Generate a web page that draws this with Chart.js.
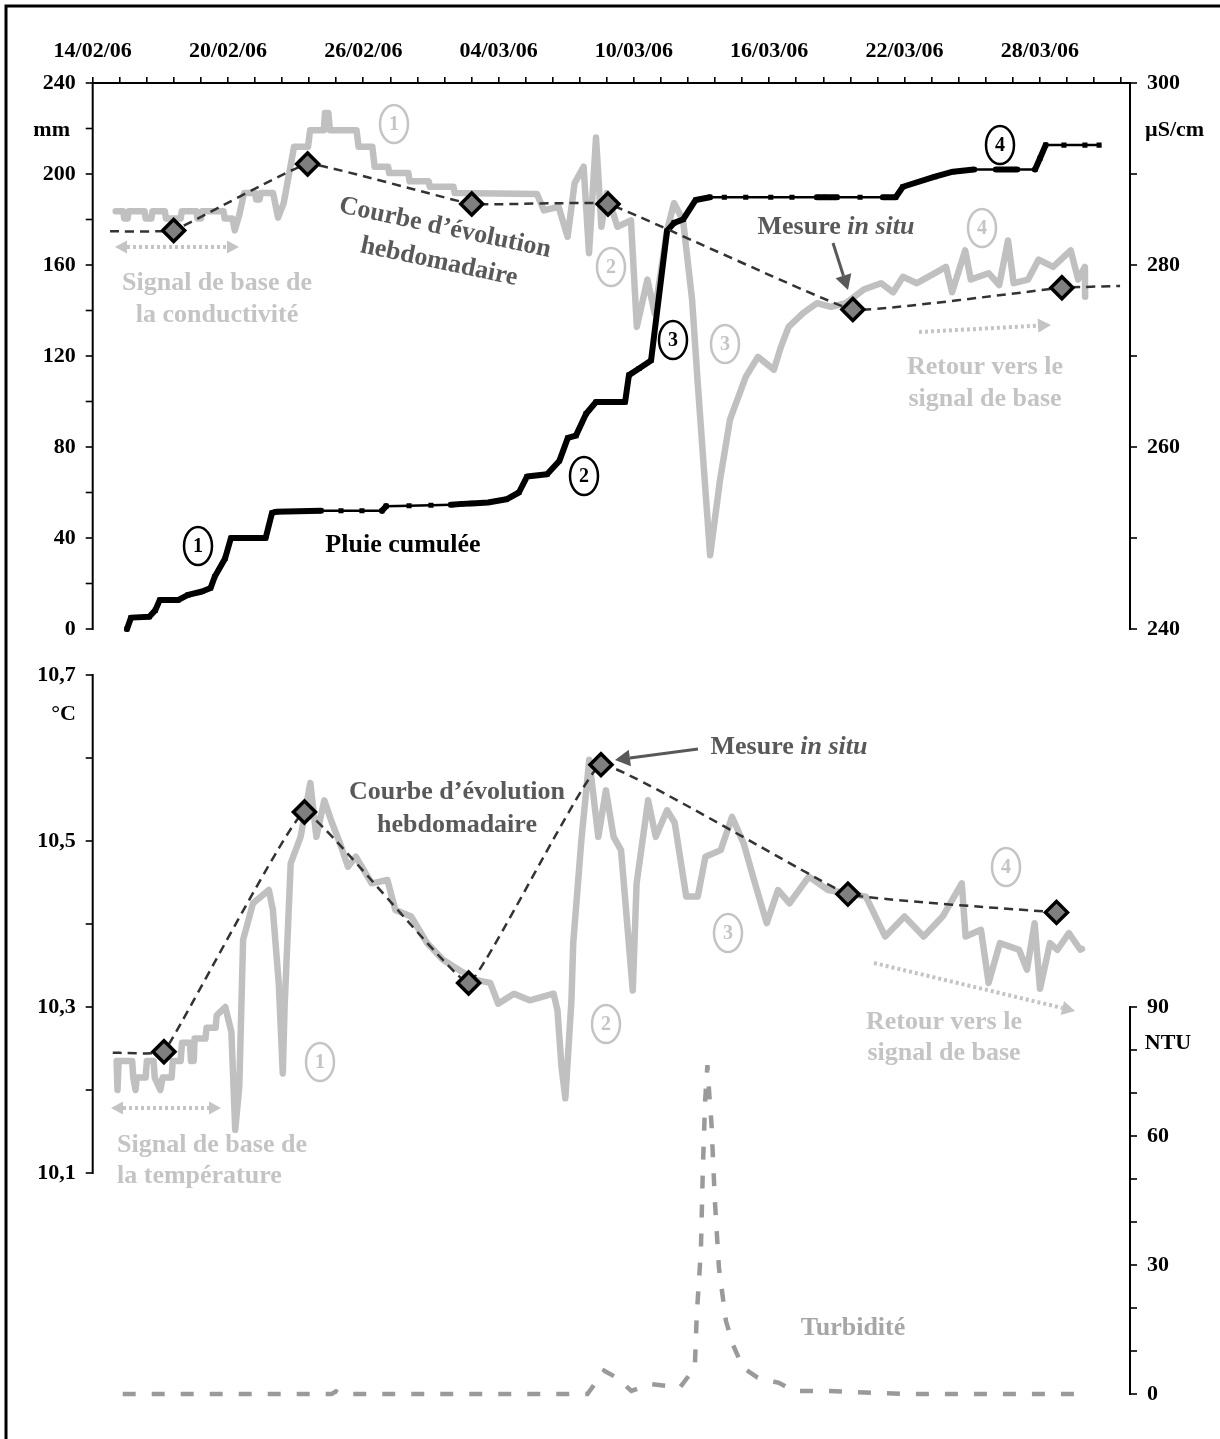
<!DOCTYPE html>
<html>
<head>
<meta charset="utf-8">
<script src="https://cdn.jsdelivr.net/npm/chart.js@4.4.1/dist/chart.umd.min.js"></script>
<style>
  html, body { margin: 0; padding: 0; background: #fff; }
  canvas { display: block; }
</style>
</head>
<body>
<canvas id="chart" width="1220" height="1439"></canvas>
<script>
// top axis labels, one every 6 days starting 14/02/06
var dateLabels = ['14/02/06', '20/02/06', '26/02/06', '04/03/06', '10/03/06', '16/03/06', '22/03/06', '28/03/06'];

// all x values are days since 14/02/06 00:00
var rainDays = [1.52, 1.70, 2.51, 2.78, 2.97, 3.35, 3.78, 4.23, 4.85, 5.23, 5.41, 5.87, 6.13, 6.60, 7.15, 7.67, 7.95, 8.13, 10.12, 11.01, 11.94, 12.83, 13.01, 14.03, 15.00, 15.89, 16.38, 16.82, 17.53, 18.35, 18.90, 19.26, 20.15, 20.70, 21.07, 21.43, 21.88, 22.32, 22.75, 23.20, 23.61, 23.78, 24.23, 24.76, 25.47, 25.78, 26.18, 26.74, 27.37, 28.01, 28.96, 30.07, 31.01, 32.12, 32.43, 33.00, 34.03, 35.05, 35.61, 35.93, 37.35, 38.15, 39.08, 40.06, 40.50, 40.99, 41.79, 42.01, 42.26, 43.07, 44.00, 44.63];
var rainMm = [0, 5, 5.4, 8.3, 12.7, 12.7, 12.7, 15, 16.5, 18, 23, 31, 40, 40, 40, 40, 51, 51.5, 52, 52, 52, 52, 54, 54.2, 54.4, 54.6, 55, 55.2, 55.6, 57, 60, 67, 68, 74, 84, 85, 94.6, 99.8, 99.8, 99.8, 99.8, 111.6, 114.5, 118, 175, 178.5, 180, 188.6, 189.8, 189.8, 189.8, 189.8, 189.8, 189.8, 189.8, 189.8, 189.8, 189.8, 189.8, 194.4, 198.8, 201, 202, 202, 202, 202, 202, 206.9, 212.7, 212.7, 212.7, 212.7];

var condDays = [1.02, 1.35, 1.40, 1.55, 1.60, 2.30, 2.35, 2.60, 2.65, 3.20, 3.25, 3.90, 3.95, 4.60, 4.65, 4.80, 4.85, 5.80, 5.85, 6.20, 6.30, 6.50, 6.71, 7.20, 7.25, 7.40, 7.45, 8.00, 8.22, 8.47, 8.93, 9.55, 9.64, 10.25, 10.30, 10.45, 10.52, 11.70, 11.79, 12.40, 12.50, 13.10, 13.15, 14.00, 14.05, 14.90, 14.95, 16.00, 16.05, 19.70, 20.01, 20.66, 21.06, 21.37, 21.77, 22.01, 22.32, 22.56, 22.80, 23.27, 23.87, 24.13, 24.60, 24.92, 25.47, 25.78, 26.18, 26.58, 26.82, 27.38, 27.82, 28.26, 28.96, 29.50, 30.21, 30.52, 30.86, 31.50, 32.12, 32.74, 33.39, 34.19, 34.96, 35.50, 35.93, 36.55, 37.35, 37.84, 38.11, 38.69, 38.94, 39.73, 40.20, 40.59, 40.84, 41.48, 41.95, 42.59, 43.37, 43.70, 44.00, 44.01];
var condUS = [285.9, 285.9, 285.1, 285.1, 285.9, 285.9, 285.1, 285.1, 285.9, 285.9, 285.1, 285.1, 285.9, 285.9, 285.1, 285.1, 285.9, 285.9, 285.1, 285.1, 283.8, 285.5, 287.9, 287.9, 287.2, 287.2, 287.9, 287.9, 285.2, 286.8, 293.0, 293.0, 294.8, 294.8, 296.7, 296.7, 294.8, 294.8, 293.0, 293.0, 290.8, 290.8, 290.1, 290.1, 289.2, 289.2, 288.6, 288.6, 287.9, 287.8, 286.0, 286.4, 283.1, 289.0, 290.8, 281.3, 294.0, 284.2, 287.9, 284.2, 284.9, 273.2, 278.4, 274.7, 283.8, 286.8, 284.9, 276.2, 267.4, 248.1, 256.4, 263.0, 267.7, 269.9, 268.5, 271.0, 273.2, 274.7, 275.8, 275.4, 275.8, 277.3, 278.0, 277.0, 278.7, 278.0, 279.1, 279.8, 277.0, 281.6, 278.4, 279.1, 277.8, 282.7, 278.0, 278.4, 280.6, 279.8, 281.6, 278.4, 279.8, 276.5];

// weekly in situ conductivity (first and last points only extend the dashed line)
var condWeekDays = [0.77, 3.59, 9.53, 16.81, 22.85, 33.71, 42.98, 45.56];
var condWeek = [283.7, 283.8, 291.1, 286.7, 286.7, 275.1, 277.5, 277.7];

var tempDays = [1.06, 1.10, 1.15, 1.75, 1.80, 1.90, 1.95, 2.35, 2.40, 2.70, 2.75, 3.00, 3.10, 3.50, 3.55, 3.90, 3.96, 4.31, 4.36, 4.48, 4.52, 5.00, 5.05, 5.45, 5.50, 5.88, 6.15, 6.32, 6.50, 6.67, 7.11, 7.81, 7.99, 8.25, 8.43, 8.51, 8.78, 9.22, 9.65, 9.92, 10.27, 10.61, 10.97, 11.32, 11.67, 12.37, 13.07, 13.42, 14.12, 14.83, 15.53, 16.23, 16.93, 17.63, 17.98, 18.68, 19.38, 20.44, 20.61, 20.79, 20.96, 21.23, 21.31, 21.67, 22.02, 22.42, 22.76, 23.10, 23.43, 23.95, 24.12, 24.63, 24.97, 25.47, 25.81, 26.32, 26.83, 27.17, 27.85, 28.35, 28.87, 29.37, 29.89, 30.39, 30.90, 31.76, 32.61, 33.45, 34.29, 35.14, 36.00, 36.85, 37.69, 38.54, 38.71, 39.39, 39.73, 40.23, 41.08, 41.43, 41.77, 42.01, 42.45, 42.78, 43.29, 43.80, 43.87];
var tempC = [10.235, 10.200, 10.235, 10.235, 10.215, 10.200, 10.215, 10.215, 10.235, 10.235, 10.215, 10.200, 10.215, 10.215, 10.235, 10.235, 10.257, 10.257, 10.235, 10.235, 10.262, 10.262, 10.275, 10.275, 10.290, 10.300, 10.270, 10.152, 10.204, 10.381, 10.425, 10.441, 10.417, 10.329, 10.220, 10.300, 10.473, 10.505, 10.570, 10.505, 10.549, 10.522, 10.497, 10.469, 10.481, 10.449, 10.453, 10.417, 10.409, 10.377, 10.357, 10.345, 10.333, 10.329, 10.304, 10.316, 10.308, 10.316, 10.296, 10.228, 10.190, 10.308, 10.377, 10.501, 10.598, 10.505, 10.561, 10.505, 10.489, 10.320, 10.449, 10.549, 10.505, 10.537, 10.522, 10.433, 10.433, 10.481, 10.489, 10.529, 10.497, 10.449, 10.401, 10.441, 10.425, 10.457, 10.441, 10.437, 10.433, 10.385, 10.409, 10.385, 10.409, 10.449, 10.385, 10.393, 10.329, 10.377, 10.369, 10.345, 10.401, 10.322, 10.377, 10.369, 10.389, 10.369, 10.370];

var tempWeekDays = [0.89, 3.16, 9.39, 16.67, 22.54, 33.49, 42.74];
var tempWeek = [10.245, 10.246, 10.535, 10.329, 10.592, 10.436, 10.414];

var turbDays = [1.33, 10.60, 10.79, 10.98, 20.72, 21.94, 22.68, 23.24, 23.89, 24.74, 26.04, 26.70, 26.79, 26.97, 27.06, 27.16, 27.26, 27.35, 27.44, 27.59, 27.77, 28.08, 28.38, 28.84, 29.49, 30.43, 31.08, 32.67, 36.02, 43.87];
var turbNtu = [0, 0, 0.6, 0, 0, 0, 5.4, 3.8, 0.7, 2.3, 1.5, 6.1, 18.6, 33.3, 52.8, 68.3, 76.5, 69.1, 62.9, 45, 29.4, 17, 11.6, 6.1, 3.8, 2.6, 0.7, 0.7, 0, 0];

// axis tick labels
var rainTickLabels = [0, 40, 80, 120, 160, 200, 240];
var condTickLabels = [240, 260, 280, 300];
var tempTickLabels = [10.1, 10.3, 10.5, 10.7];
var ntuTickLabels = [0, 30, 60, 90];

// ---- layout ----
var AREA_TOP = 83, AREA_BOTTOM = 1400;
var FONT = '"Liberation Serif", "Times New Roman", serif';
var LIGHT = '#c4c4c4', DARK = '#595959';

// each y scale spans the whole plot area; pick min/max so that its own panel lands where it should
function fullRange(vTop, yTop, vBot, yBot) {
  var k = (vTop - vBot) / (yBot - yTop);
  return { max: vTop + (yTop - AREA_TOP) * k, min: vBot - (AREA_BOTTOM - yBot) * k };
}
var rainRange = fullRange(240, 83, 0, 629);
var condRange = fullRange(300, 83, 240, 629);
var tempRange = fullRange(10.7, 675, 10.1, 1173);
var ntuRange = fullRange(90, 1007, 0, 1394);

function pts(xs, ys) {
  return xs.map(function (x, i) { return { x: x, y: ys[i] }; });
}

function ellipseLabel(ctx, txt, x, y, color) {
  ctx.strokeStyle = color; ctx.lineWidth = 2.5;
  ctx.beginPath(); ctx.ellipse(x, y, 14, 19, 0, 0, Math.PI * 2); ctx.stroke();
  ctx.fillStyle = color; ctx.font = 'bold 20px ' + FONT;
  ctx.textAlign = 'center'; ctx.textBaseline = 'middle';
  ctx.fillText(txt, x, y + 1);
}

function text(ctx, txt, x, y, color, align, size, rot) {
  ctx.save();
  ctx.translate(x, y);
  if (rot) ctx.rotate(rot * Math.PI / 180);
  ctx.fillStyle = color; ctx.font = 'bold ' + (size || 26) + 'px ' + FONT;
  ctx.textAlign = align || 'center'; ctx.textBaseline = 'middle';
  ctx.fillText(txt, 0, 0);
  ctx.restore();
}

// "Mesure in situ" with the latin words in italic
function mesure(ctx, x, y) {
  ctx.textBaseline = 'middle'; ctx.textAlign = 'left'; ctx.fillStyle = DARK;
  ctx.font = 'bold 26px ' + FONT;
  var w1 = ctx.measureText('Mesure ').width;
  ctx.font = 'italic bold 26px ' + FONT;
  var w2 = ctx.measureText('in situ').width;
  var x0 = x - (w1 + w2) / 2;
  ctx.font = 'bold 26px ' + FONT;
  ctx.fillText('Mesure ', x0, y);
  ctx.font = 'italic bold 26px ' + FONT;
  ctx.fillText('in situ', x0 + w1, y);
}

function head(ctx, x0, y0, x1, y1, size, color) {
  var a = Math.atan2(y1 - y0, x1 - x0), c = Math.cos(a), s = Math.sin(a);
  ctx.fillStyle = color;
  ctx.beginPath();
  ctx.moveTo(x1, y1);
  ctx.lineTo(x1 - size * c + size * 0.55 * s, y1 - size * s - size * 0.55 * c);
  ctx.lineTo(x1 - size * c - size * 0.55 * s, y1 - size * s + size * 0.55 * c);
  ctx.closePath(); ctx.fill();
}

function arrow(ctx, x0, y0, x1, y1, color, width, dash, size, both) {
  var a = Math.atan2(y1 - y0, x1 - x0), c = Math.cos(a), s = Math.sin(a);
  ctx.save();
  ctx.strokeStyle = color; ctx.lineWidth = width; ctx.setLineDash(dash);
  ctx.beginPath();
  ctx.moveTo(both ? x0 + size * c : x0, both ? y0 + size * s : y0);
  ctx.lineTo(x1 - size * c, y1 - size * s);
  ctx.stroke();
  ctx.setLineDash([]);
  head(ctx, x0, y0, x1, y1, size, color);
  if (both) head(ctx, x1, y1, x0, y0, size, color);
  ctx.restore();
}

function vAxis(ctx, scale, x, lo, hi, step, labels, side, fmt) {
  var yTop = scale.getPixelForValue(hi), yBot = scale.getPixelForValue(lo);
  ctx.strokeStyle = '#000'; ctx.lineWidth = 2;
  ctx.beginPath(); ctx.moveTo(x, yTop - 1); ctx.lineTo(x, yBot + 1); ctx.stroke();
  ctx.lineWidth = 1.6;
  var n = Math.round((hi - lo) / step);
  for (var i = 0; i <= n; i++) {
    var y = scale.getPixelForValue(lo + i * step);
    ctx.beginPath(); ctx.moveTo(x, y); ctx.lineTo(x + side * 7, y); ctx.stroke();
  }
  ctx.font = 'bold 22px ' + FONT; ctx.fillStyle = '#000';
  ctx.textAlign = side < 0 ? 'right' : 'left'; ctx.textBaseline = 'middle';
  labels.forEach(function (v) { ctx.fillText(fmt(v), x + side * 17, scale.getPixelForValue(v)); });
}

var overlay = {
  id: 'overlay',
  afterDraw: function (chart) {
    var ctx = chart.ctx, s = chart.scales, area = chart.chartArea;
    ctx.save();
    // outer frame (top and left edges are visible)
    ctx.strokeStyle = '#000'; ctx.lineWidth = 3;
    ctx.beginPath(); ctx.moveTo(6, 1445); ctx.lineTo(6, 6); ctx.lineTo(1225, 6); ctx.stroke();

    var plain = function (v) { return String(v); };
    vAxis(ctx, s.yRain, area.left, 0, 240, 20, rainTickLabels, -1, plain);
    vAxis(ctx, s.yCond, area.right, 240, 300, 10, condTickLabels, 1, plain);
    vAxis(ctx, s.yTemp, area.left, 10.1, 10.7, 0.1, tempTickLabels, -1, function (v) { return v.toFixed(1).replace('.', ','); });
    vAxis(ctx, s.yNtu, area.right, 0, 90, 10, ntuTickLabels, 1, plain);

    // units
    text(ctx, 'mm', 70, 130, '#000', 'right', 22);
    text(ctx, '\u00b5S/cm', 1145, 130, '#000', 'left', 22);
    text(ctx, '\u00b0C', 76, 714, '#000', 'right', 22);
    text(ctx, 'NTU', 1168, 1043, '#000', 'center', 22);

    // top panel notes
    text(ctx, 'Courbe d\u2019\u00e9volution', 445, 228, DARK, 'center', 26, 12);
    text(ctx, 'hebdomadaire', 439, 262, DARK, 'center', 26, 12);
    text(ctx, 'Signal de base de', 217, 283, LIGHT);
    text(ctx, 'la conductivit\u00e9', 217, 315, LIGHT);
    text(ctx, 'Pluie cumul\u00e9e', 403, 545, '#000');
    mesure(ctx, 836, 227);
    text(ctx, 'Retour vers le', 985, 367, LIGHT);
    text(ctx, 'signal de base', 985, 399, LIGHT);
    arrow(ctx, 833, 243, 848, 290, DARK, 3, [], 15, false);
    arrow(ctx, 115, 247, 239, 247, LIGHT, 4, [3, 3], 12, true);
    arrow(ctx, 919, 332, 1051, 325, LIGHT, 4, [3, 3], 13, false);
    ellipseLabel(ctx, '1', 394, 124, LIGHT);
    ellipseLabel(ctx, '2', 611, 267, LIGHT);
    ellipseLabel(ctx, '3', 725, 344, LIGHT);
    ellipseLabel(ctx, '4', 982, 228, LIGHT);
    ellipseLabel(ctx, '1', 198, 546, '#000');
    ellipseLabel(ctx, '2', 584, 476, '#000');
    ellipseLabel(ctx, '3', 673, 340, '#000');
    ellipseLabel(ctx, '4', 1000, 145, '#000');

    // bottom panel notes
    text(ctx, 'Courbe d\u2019\u00e9volution', 457, 792, DARK);
    text(ctx, 'hebdomadaire', 457, 825, DARK);
    mesure(ctx, 789, 747);
    arrow(ctx, 698, 749, 615, 760, DARK, 3, [], 15, false);
    text(ctx, 'Signal de base de', 117, 1145, LIGHT, 'left');
    text(ctx, 'la temp\u00e9rature', 117, 1176, LIGHT, 'left');
    arrow(ctx, 111, 1108, 221, 1108, LIGHT, 4, [3, 3], 12, true);
    text(ctx, 'Retour vers le', 944, 1022, LIGHT);
    text(ctx, 'signal de base', 944, 1053, LIGHT);
    arrow(ctx, 874, 963, 1075, 1011, LIGHT, 4, [3, 3], 13, false);
    text(ctx, 'Turbidit\u00e9', 853, 1328, '#a6a6a6');
    ellipseLabel(ctx, '1', 320, 1062, LIGHT);
    ellipseLabel(ctx, '2', 606, 1024, LIGHT);
    ellipseLabel(ctx, '3', 728, 933, LIGHT);
    ellipseLabel(ctx, '4', 1006, 867, LIGHT);
    ctx.restore();
  }
};

Chart.defaults.font.family = FONT;

var weeklyRadius = function (ctx) {
  var last = ctx.dataset.data.length - 1;
  if (ctx.dataIndex === 0) return 0;
  if (ctx.dataset.openEnd && ctx.dataIndex === last) return 0;
  return 11;
};

var chart = new Chart(document.getElementById('chart').getContext('2d'), {
  type: 'line',
  data: {
    datasets: [
      {
        label: 'Conductivit\u00e9 hebdomadaire',
        data: pts(condWeekDays, condWeek),
        yAxisID: 'yCond',
        openEnd: true,
        borderColor: '#333', borderWidth: 2.5, borderDash: [9, 6],
        tension: 0.08,
        pointStyle: 'rectRot', pointRadius: weeklyRadius,
        pointBackgroundColor: '#7f7f7f', pointBorderColor: '#000', pointBorderWidth: 3.5
      },
      {
        label: 'Temp\u00e9rature hebdomadaire',
        data: pts(tempWeekDays, tempWeek),
        yAxisID: 'yTemp',
        openEnd: false,
        borderColor: '#333', borderWidth: 2.5, borderDash: [9, 6],
        tension: 0.08,
        pointStyle: 'rectRot', pointRadius: weeklyRadius,
        pointBackgroundColor: '#7f7f7f', pointBorderColor: '#000', pointBorderWidth: 3.5
      },
      {
        label: 'Pluie cumul\u00e9e',
        data: pts(rainDays, rainMm),
        yAxisID: 'yRain',
        borderColor: '#000', borderWidth: 3,
        borderJoinStyle: 'round', borderCapStyle: 'round',
        segment: {
          // rising parts are dense records in the source, drawn thick
          borderWidth: function (ctx) {
            var rise = ctx.p1.parsed.y - ctx.p0.parsed.y;
            var run = ctx.p1.parsed.x - ctx.p0.parsed.x;
            return (rise > 0.3 || run < 0.6) ? 6 : 2.5;
          }
        },
        pointStyle: 'rect', pointRadius: 3.6, pointBackgroundColor: '#000', pointBorderWidth: 0
      },
      {
        label: 'Conductivit\u00e9',
        data: pts(condDays, condUS),
        yAxisID: 'yCond',
        borderColor: '#c0c0c0', borderWidth: 6.5,
        borderJoinStyle: 'round', borderCapStyle: 'round',
        pointRadius: 0
      },
      {
        label: 'Temp\u00e9rature',
        data: pts(tempDays, tempC),
        yAxisID: 'yTemp',
        borderColor: '#c0c0c0', borderWidth: 6.5,
        borderJoinStyle: 'round', borderCapStyle: 'round',
        pointRadius: 0
      },
      {
        label: 'Turbidit\u00e9',
        data: pts(turbDays, turbNtu),
        yAxisID: 'yNtu',
        borderColor: '#9a9a9a', borderWidth: 4.5, borderDash: [13, 16],
        pointRadius: 0
      }
    ]
  },
  options: {
    responsive: false,
    animation: false,
    devicePixelRatio: 1,
    layout: { padding: { top: 0, left: 92.7, right: 90, bottom: 1439 - AREA_BOTTOM } },
    plugins: { legend: { display: false }, tooltip: { enabled: false } },
    elements: { line: { fill: false } },
    scales: {
      x: {
        type: 'linear', position: 'top', min: 0, max: 46,
        afterBuildTicks: function (scale) {
          var t = [];
          for (var i = 0; i * 1.2 <= 46; i++) t.push({ value: i * 1.2 });
          scale.ticks = t;
        },
        afterFit: function (scale) { scale.height = AREA_TOP; },
        ticks: {
          autoSkip: false, maxRotation: 0, padding: 12, color: '#000',
          font: { size: 22, weight: 'bold' },
          callback: function (value, index) {
            return index % 5 === 0 ? (dateLabels[index / 5] || '') : '';
          }
        },
        grid: { drawOnChartArea: false, drawTicks: true, tickLength: 6, color: '#000', lineWidth: 1.6 },
        border: { display: true, color: '#000', width: 2 }
      },
      yRain: { type: 'linear', display: false, min: rainRange.min, max: rainRange.max },
      yCond: { type: 'linear', display: false, min: condRange.min, max: condRange.max },
      yTemp: { type: 'linear', display: false, min: tempRange.min, max: tempRange.max },
      yNtu: { type: 'linear', display: false, min: ntuRange.min, max: ntuRange.max }
    }
  },
  plugins: [overlay]
});
</script>
</body>
</html>
